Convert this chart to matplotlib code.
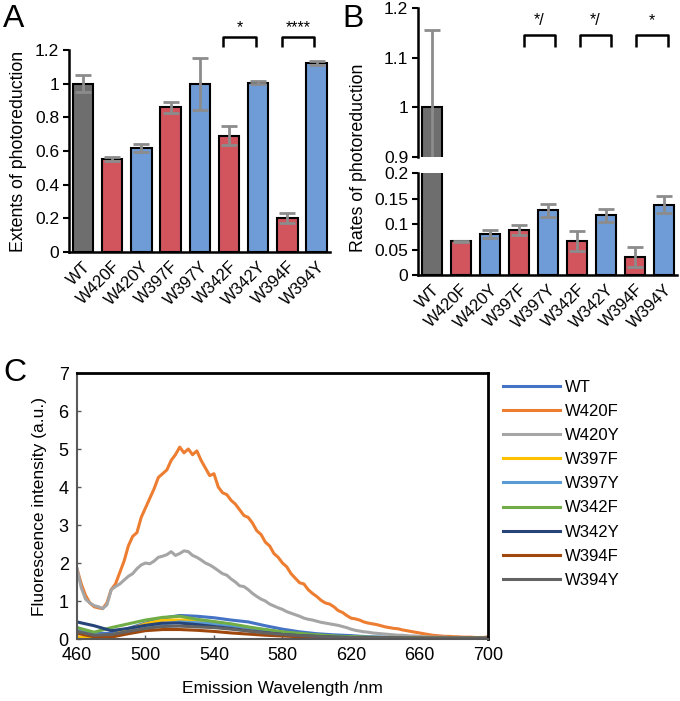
import matplotlib
matplotlib.use('Agg')
import matplotlib.pyplot as plt
import numpy as np

plt.rcParams['font.family'] = ['Liberation Sans', 'DejaVu Sans']

mutants = ['WT', 'W420F', 'W420Y', 'W397F', 'W397Y', 'W342F', 'W342Y', 'W394F', 'W394Y']

# panel A - extents of photoreduction
extent = [1.0, 0.553, 0.617, 0.860, 1.0, 0.692, 1.005, 0.203, 1.122]
extent_err = [0.05, 0.010, 0.022, 0.032, 0.155, 0.058, 0.010, 0.030, 0.014]

# panel B - rates of photoreduction
rate = [1.0, 0.066, 0.080, 0.088, 0.127, 0.067, 0.117, 0.035, 0.138]
rate_err = [0.155, 0.001, 0.008, 0.010, 0.013, 0.020, 0.013, 0.020, 0.017]

# panel C - emission spectra (read every 2.5 nm for the two big ones)
wl_fine = np.arange(460, 700.1, 2.5)
w420f = [1.85, 1.45, 1.15, 0.95, 0.85, 0.82, 0.80, 0.95,
         1.30, 1.45, 1.75, 2.05, 2.45, 2.70, 2.80, 3.20,
         3.45, 3.70, 3.95, 4.25, 4.35, 4.45, 4.70, 4.85,
         5.05, 4.90, 5.00, 4.85, 4.95, 4.70, 4.50, 4.30,
         4.35, 4.00, 3.85, 3.80, 3.65, 3.55, 3.40, 3.25,
         3.20, 3.05, 2.85, 2.75, 2.55, 2.45, 2.25, 2.15,
         2.00, 1.90, 1.72, 1.60, 1.48, 1.45, 1.30, 1.20,
         1.12, 1.02, 0.95, 0.92, 0.85, 0.75, 0.70, 0.62,
         0.55, 0.53, 0.50, 0.45, 0.42, 0.40, 0.38, 0.35,
         0.32, 0.30, 0.28, 0.27, 0.24, 0.22, 0.20, 0.18,
         0.16, 0.14, 0.12, 0.10, 0.09, 0.08, 0.07, 0.07,
         0.06, 0.06, 0.05, 0.05, 0.05, 0.04, 0.04, 0.04,
         0.06]
w420y = [1.85, 1.35, 1.05, 0.95, 0.88, 0.85, 0.80, 0.90,
         1.30, 1.38, 1.45, 1.55, 1.65, 1.72, 1.85, 1.95,
         2.00, 1.98, 2.05, 2.15, 2.18, 2.22, 2.30, 2.20,
         2.25, 2.32, 2.30, 2.20, 2.15, 2.08, 2.00, 1.95,
         1.88, 1.80, 1.72, 1.68, 1.58, 1.50, 1.40, 1.38,
         1.30, 1.20, 1.12, 1.05, 1.00, 0.92, 0.87, 0.82,
         0.78, 0.72, 0.68, 0.64, 0.60, 0.55, 0.52, 0.50,
         0.47, 0.44, 0.42, 0.40, 0.38, 0.36, 0.33, 0.30,
         0.26, 0.23, 0.21, 0.19, 0.18, 0.16, 0.15, 0.14,
         0.13, 0.12, 0.11, 0.10, 0.10, 0.09, 0.08, 0.08,
         0.07, 0.06, 0.06, 0.05, 0.05, 0.05, 0.05, 0.04,
         0.04, 0.04, 0.04, 0.03, 0.03, 0.03, 0.03, 0.03,
         0.05]

wl = np.arange(460, 701, 10)
wt = [0.30, 0.15, 0.15, 0.28, 0.42, 0.55, 0.62, 0.60, 0.56, 0.50, 0.45, 0.35, 0.26,
      0.19, 0.14, 0.11, 0.09, 0.06, 0.05, 0.04, 0.03, 0.03, 0.02, 0.02, 0.02]
w397f = [0.05, 0.03, 0.10, 0.25, 0.40, 0.50, 0.50, 0.50, 0.45, 0.38, 0.30, 0.24, 0.18,
         0.13, 0.10, 0.07, 0.05, 0.04, 0.03, 0.03, 0.02, 0.02, 0.02, 0.02, 0.02]
w397y = [0.25, 0.12, 0.10, 0.20, 0.32, 0.40, 0.45, 0.43, 0.40, 0.35, 0.30, 0.24, 0.18,
         0.13, 0.10, 0.07, 0.05, 0.04, 0.03, 0.03, 0.02, 0.02, 0.02, 0.02, 0.02]
w342f = [0.30, 0.18, 0.30, 0.40, 0.50, 0.57, 0.60, 0.52, 0.46, 0.40, 0.32, 0.25, 0.19,
         0.15, 0.11, 0.08, 0.06, 0.05, 0.04, 0.03, 0.03, 0.02, 0.02, 0.02, 0.02]
w342y = [0.45, 0.35, 0.22, 0.28, 0.36, 0.42, 0.42, 0.38, 0.33, 0.28, 0.22, 0.17, 0.12,
         0.09, 0.07, 0.05, 0.04, 0.03, 0.03, 0.02, 0.02, 0.02, 0.02, 0.02, 0.02]
w394f = [0.15, 0.06, 0.05, 0.14, 0.22, 0.25, 0.25, 0.23, 0.20, 0.16, 0.13, 0.10, 0.08,
         0.06, 0.05, 0.04, 0.03, 0.02, 0.02, 0.02, 0.02, 0.02, 0.02, 0.02, 0.02]
w394y = [0.20, 0.10, 0.12, 0.20, 0.28, 0.33, 0.34, 0.32, 0.30, 0.26, 0.21, 0.16, 0.12,
         0.09, 0.07, 0.05, 0.04, 0.03, 0.03, 0.03, 0.02, 0.02, 0.02, 0.02, 0.02]

gray, red, blue = '#6e6e6e', '#d2545c', '#6f9bd6'
bar_cols = [gray] + [red, blue] * 4
err_col = '#8c8c8c'

fig = plt.figure(figsize=(6.8, 7.01), dpi=100)
x = np.arange(len(mutants))


def style_bar_axis(ax):
    for s in ['top', 'right']:
        ax.spines[s].set_visible(False)
    ax.spines['left'].set_linewidth(1.8)
    ax.spines['bottom'].set_linewidth(1.8)
    ax.tick_params(axis='y', direction='out', length=4, width=1.5, labelsize=12.5, pad=3)
    ax.set_xlim(-0.48, 8.45)


def draw_bars(ax, vals, errs):
    ax.bar(x, vals, width=0.7, color=bar_cols, edgecolor='black', linewidth=1.5, zorder=2)
    ax.errorbar(x, vals, yerr=errs, fmt='none', ecolor=err_col, elinewidth=2,
                capsize=6, capthick=2, zorder=3)


def bracket(ax, x0, x1, y0, y1, txt, ty):
    ax.plot([x0, x0, x1, x1], [y0, y1, y1, y0], color='black', lw=1.8,
            clip_on=False, solid_capstyle='butt')
    ax.text((x0 + x1) / 2, ty, txt, ha='center', va='center', fontsize=11.5)


# ---- panel A
axA = fig.add_axes([0.1015, 0.6405, 0.3835, 0.2882])
draw_bars(axA, extent, extent_err)
style_bar_axis(axA)
axA.set_ylim(0, 1.2)
axA.set_yticks([0, 0.2, 0.4, 0.6, 0.8, 1.0, 1.2])
axA.set_yticklabels(['0', '0.2', '0.4', '0.6', '0.8', '1', '1.2'])
axA.set_xticks(x)
axA.set_xticklabels(mutants, rotation=45, ha='right', rotation_mode='anchor', fontsize=12)
axA.tick_params(axis='x', length=0, pad=5)
axA.set_ylabel('Extents of photoreduction', fontsize=12.8, labelpad=6)
bracket(axA, 4.8, 5.92, 1.22, 1.275, '*', 1.335)
bracket(axA, 6.8, 7.92, 1.22, 1.275, '****', 1.335)
fig.text(0.005, 0.995, 'A', fontsize=23, va='top', ha='left')

# ---- panel B (broken axis)
axBt = fig.add_axes([0.6147, 0.776, 0.381, 0.2126])
axBb = fig.add_axes([0.6147, 0.6077, 0.381, 0.1455])
for ax in (axBt, axBb):
    draw_bars(ax, rate, rate_err)
    style_bar_axis(ax)
axBt.set_ylim(0.9, 1.2)
axBt.set_yticks([0.9, 1.0, 1.1, 1.2])
axBt.set_yticklabels(['0.9', '1', '1.1', '1.2'])
axBt.spines['bottom'].set_visible(False)
axBt.set_xticks([])
axBb.set_ylim(0, 0.2)
axBb.set_yticks([0, 0.05, 0.1, 0.15, 0.2])
axBb.set_yticklabels(['0', '0.05', '0.1', '0.15', '0.2'])
axBb.set_xticks(x)
axBb.set_xticklabels(mutants, rotation=45, ha='right', rotation_mode='anchor', fontsize=12)
axBb.tick_params(axis='x', length=0, pad=5)
bracket(axBt, 3.16, 4.25, 1.122, 1.145, '*/', 1.175)
bracket(axBt, 5.09, 6.18, 1.122, 1.145, '*/', 1.175)
bracket(axBt, 7.05, 8.14, 1.122, 1.145, '*', 1.175)
fig.text(0.527, 0.775, 'Rates of photoreduction', rotation=90, fontsize=12.8,
         ha='center', va='center')
fig.text(0.503, 0.995, 'B', fontsize=23, va='top', ha='left')

# ---- panel C
axC = fig.add_axes([0.1132, 0.0884, 0.6044, 0.3795])
series = [('WT', wl, wt, '#4472c4'), ('W420F', wl_fine, w420f, '#ed7d31'),
          ('W420Y', wl_fine, w420y, '#a5a5a5'), ('W397F', wl, w397f, '#ffc000'),
          ('W397Y', wl, w397y, '#5b9bd5'), ('W342F', wl, w342f, '#70ad47'),
          ('W342Y', wl, w342y, '#264478'), ('W394F', wl, w394f, '#9e480e'),
          ('W394Y', wl, w394y, '#636363')]
for name, xs, ys, c in series:
    axC.plot(xs, ys, color=c, lw=2.2, label=name)
axC.set_xlim(460, 700)
axC.set_ylim(0, 7)
axC.set_xticks([460, 500, 540, 580, 620, 660, 700])
axC.set_yticks(range(8))
axC.tick_params(direction='in', length=3, width=1, labelsize=13, pad=6, color='#595959')
for s in ['top', 'right']:
    axC.spines[s].set_linewidth(2)
for s in ['left', 'bottom']:
    axC.spines[s].set_linewidth(1.5)
    axC.spines[s].set_color('#595959')
axC.set_ylabel('Fluorescence intensity (a.u.)', fontsize=12.5, labelpad=8)
axC.set_xlabel('Emission Wavelength /nm', fontsize=12.5, labelpad=12)
fig.text(0.005, 0.49, 'C', fontsize=23, va='top', ha='left')
axC.legend(loc='upper left', bbox_to_anchor=(0.73, 0.468), bbox_transform=fig.transFigure,
           frameon=False, fontsize=12, handlelength=3.4, handletextpad=0.3,
           labelspacing=0.55, borderaxespad=0)

fig.savefig('out.png', dpi=100)
